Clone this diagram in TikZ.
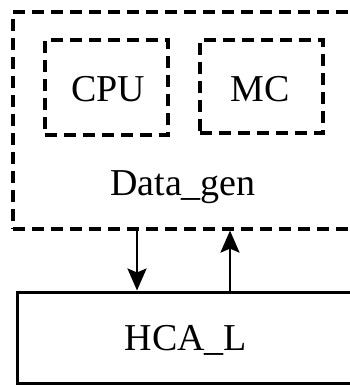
\documentclass[tikz,border=0pt]{standalone}
\usepackage{fontspec}
\setmainfont{Liberation Serif}
\usetikzlibrary{arrows.meta}
\begin{document}
\begin{tikzpicture}[x=1pt,y=-1pt,
  dbox/.style={draw, line width=3.2pt, dash pattern=on 12pt off 7pt, inner sep=0pt},
  sbox/.style={draw, line width=3pt, inner sep=0pt},
  lbl/.style={font=\fontsize{38}{42}\selectfont, inner sep=0pt, anchor=base},
  arr/.style={line width=2.6pt, -{Stealth[length=22pt,width=19pt,inset=4pt]}}]
\clip (0,0) rectangle (350,385);
\node[dbox, minimum width=344pt, minimum height=217pt] (outer) at (185,120.5) {};
\node[dbox, minimum width=123pt, minimum height=95pt] (cpubox) at (106.5,87.5) {};
\node[dbox, minimum width=123pt, minimum height=93pt] (mcbox) at (261.5,86.5) {};
\node[lbl] (cpu) at (108,102) {CPU};
\node[lbl] (mc) at (260,102) {MC};
\node[lbl] (dg) at (183,195) {Data\_gen};
\node[sbox, minimum width=338pt, minimum height=91pt] (hca) at (186,337.5) {};
\node[lbl] (hcal) at (186,350) {HCA\_L};
\coordinate (d) at (137,0);
\coordinate (u) at (230,0);
\draw[arr] (outer.south -| d) -- (hca.north -| d);
\draw[arr] (hca.north -| u) -- (outer.south -| u);
\end{tikzpicture}
\end{document}
